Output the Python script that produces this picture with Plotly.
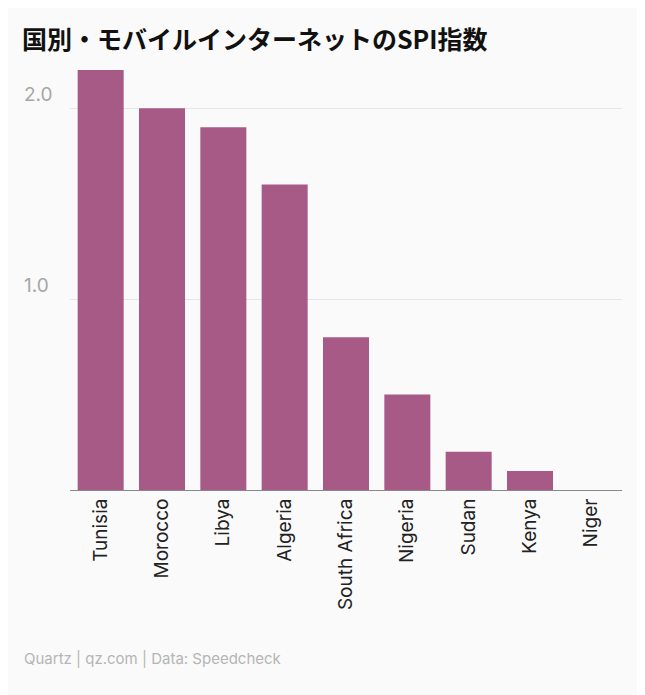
import plotly.graph_objects as go

countries = ["Tunisia", "Morocco", "Libya", "Algeria", "South Africa",
             "Nigeria", "Sudan", "Kenya", "Niger"]
spi = [2.2, 2.0, 1.9, 1.6, 0.8, 0.5, 0.2, 0.1, 0.0]
tick_vals = [1.0, 2.0]
tick_text = ["1.0", "2.0"]

fig = go.Figure(go.Bar(x=countries, y=spi, marker_color="#a85a86",
                       marker_line_width=0))

# y labels sit above the gridlines, at the far left
for v, t in zip(tick_vals, tick_text):
    fig.add_annotation(text=t, x=-0.087, xref="paper", y=v, yref="y",
                       xanchor="left", yanchor="bottom", showarrow=False,
                       font=dict(size=19, color="#a6a6a6", family="Inter"))

fig.add_annotation(text="Quartz | qz.com | Data: Speedcheck", x=-0.087,
                   xref="paper", y=-0.4, yref="paper", xanchor="left",
                   yanchor="middle", showarrow=False,
                   font=dict(size=15, color="#b5b5b5", family="Inter"))

fig.update_layout(
    width=645, height=695,
    margin=dict(l=62, r=31, t=62, b=213),
    paper_bgcolor="#fafafa", plot_bgcolor="#fafafa",
    bargap=0.25,
    showlegend=False,
    title=dict(text="<b>国別・モバイルインターネットのSPI指数</b>", x=14 / 645,
               xanchor="left", y=0.954, yanchor="middle",
               font=dict(size=25, color="#111111",
                         family="Noto Sans CJK JP")),
    xaxis=dict(tickangle=-90, tickfont=dict(size=19, color="#222222",
                                            family="Inter"),
               showline=True, linecolor="#888888", linewidth=1,
               ticks="", showgrid=False),
    yaxis=dict(range=[0, 2.2], tickvals=tick_vals, showticklabels=False,
               gridcolor="#e6e6e6", zeroline=False, showline=False),
)

fig.write_html("out.html")
